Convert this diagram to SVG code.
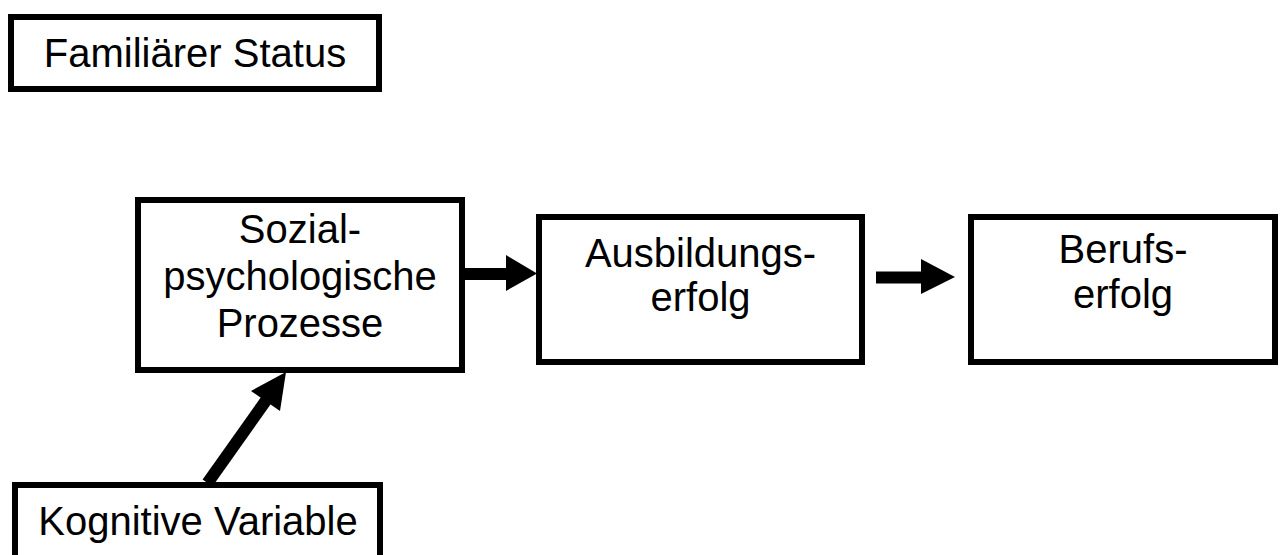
<svg xmlns="http://www.w3.org/2000/svg" width="1280" height="555" viewBox="0 0 1280 555">
<style>
.box{fill:#fff;stroke:#000;stroke-width:6}
.t{font-family:"Liberation Sans",Arial,sans-serif;font-size:40px;fill:#000;text-anchor:middle}
.shaft{stroke:#000;stroke-width:12;fill:none}
.head{fill:#000;stroke:none}
</style>
<rect width="1280" height="555" fill="#fff"/>
<g id="familiaerer-status">
<rect class="box" x="11" y="17" width="368" height="72"/>
<text class="t" x="195" y="67">Familiärer Status</text>
</g>
<g id="sozialpsychologische-prozesse">
<rect class="box" x="138" y="200" width="324" height="170"/>
<text class="t" x="300" y="243">Sozial-</text>
<text class="t" x="300" y="290">psychologische</text>
<text class="t" x="300" y="337">Prozesse</text>
</g>
<g id="ausbildungserfolg">
<rect class="box" x="539" y="217" width="323" height="145"/>
<text class="t" x="700.5" y="267">Ausbildungs-</text>
<text class="t" x="700.5" y="311">erfolg</text>
</g>
<g id="berufserfolg">
<rect class="box" x="971" y="217" width="304" height="145"/>
<text class="t" x="1123" y="263">Berufs-</text>
<text class="t" x="1123" y="308">erfolg</text>
</g>
<g id="kognitive-variable">
<rect class="box" x="15" y="485" width="365" height="100"/>
<text class="t" x="198" y="535">Kognitive Variable</text>
</g>
<g id="connectors">
<line class="shaft" x1="465" y1="274" x2="508" y2="274"/>
<polygon class="head" points="506,255 537,273.5 506,291"/>
<line class="shaft" x1="876" y1="277.5" x2="923" y2="277.5"/>
<polygon class="head" points="921,259 955,277 921,294"/>
<line class="shaft" x1="207.5" y1="483" x2="267" y2="399"/>
<polygon class="head" points="286,372 251,391 280,411"/>
</g>
</svg>
